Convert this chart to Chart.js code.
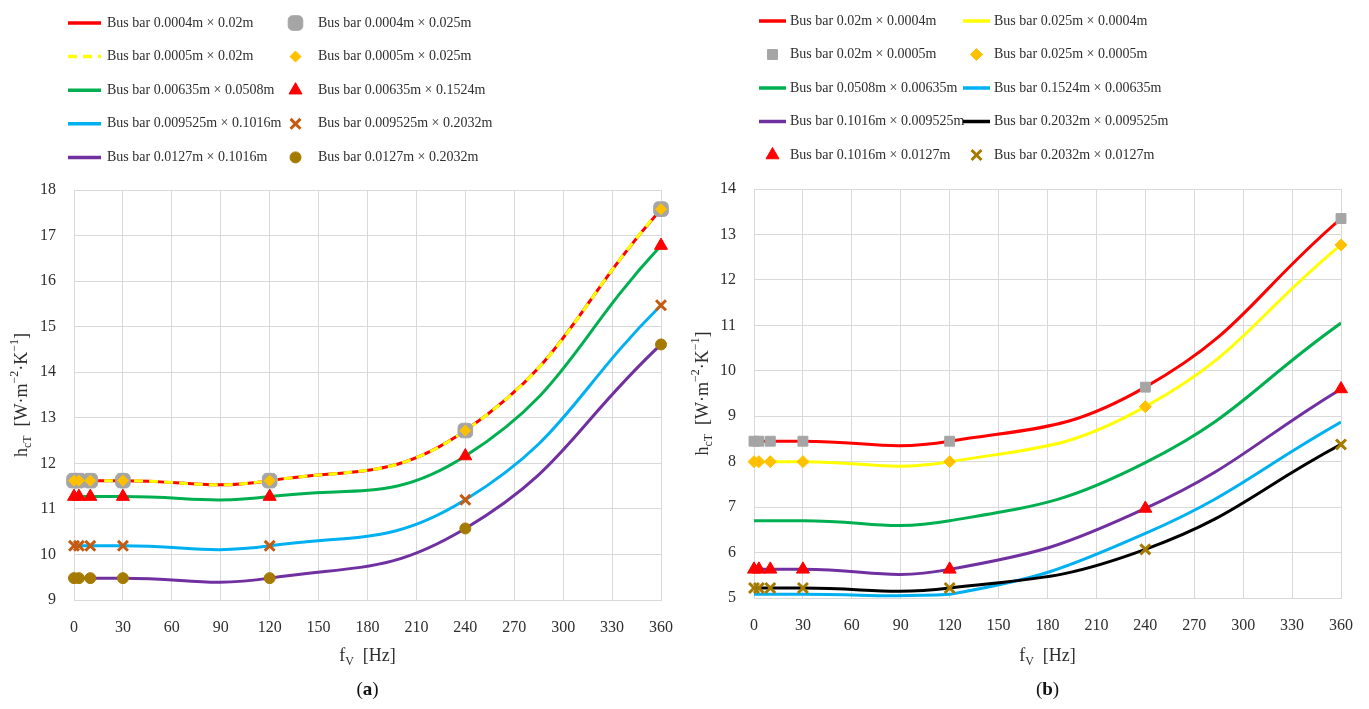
<!DOCTYPE html>
<html>
<head>
<meta charset="utf-8">
<script src="https://cdn.jsdelivr.net/npm/chart.js@4.4.1/dist/chart.umd.min.js"></script>
<style>
  html, body { margin: 0; padding: 0; background: #fff; }
  #wrap { position: relative; width: 1369px; height: 709px; }
  canvas { position: absolute; top: 0; }
  #chartA { left: 0; }
  #chartB { left: 684px; }
</style>
</head>
<body>
<div id="wrap">
  <canvas id="chartA" width="684" height="709"></canvas>
  <canvas id="chartB" width="685" height="709"></canvas>
</div>
<script>
// frequencies (Hz)
const freqA = [0, 3, 10, 30, 120, 240, 360];
const freqB = [0, 3, 10, 30, 120, 240, 360];
const xTicks = [0, 30, 60, 90, 120, 150, 180, 210, 240, 270, 300, 330, 360];

// (a) h_cT values
const a_0004x002 = [11.62, 11.62, 11.62, 11.62, 11.62, 12.72, 17.58];
const a_0004x0025 = [11.62, 11.62, 11.62, 11.62, 11.62, 12.72, 17.58];
const a_0005x002 = [11.62, 11.62, 11.62, 11.62, 11.62, 12.72, 17.58];
const a_0005x0025 = [11.62, 11.62, 11.62, 11.62, 11.62, 12.72, 17.58];
const a_00635x00508 = [11.27, 11.27, 11.27, 11.27, 11.27, 12.16, 16.78];
const a_00635x01524 = [11.27, 11.27, 11.27, 11.27, 11.27, 12.16, 16.78];
const a_009525x01016 = [10.19, 10.19, 10.19, 10.19, 10.19, 11.2, 15.47];
const a_009525x02032 = [10.19, 10.19, 10.19, 10.19, 10.19, 11.2, 15.47];
const a_0127x01016 = [9.48, 9.48, 9.48, 9.48, 9.48, 10.57, 14.61];
const a_0127x02032 = [9.48, 9.48, 9.48, 9.48, 9.48, 10.57, 14.61];

// (b) h_cT values
const b_002x00004 = [8.45, 8.45, 8.45, 8.45, 8.45, 9.64, 13.35];
const b_0025x00004 = [8.0, 8.0, 8.0, 8.0, 8.0, 9.21, 12.77];
const b_002x00005 = [8.45, 8.45, 8.45, 8.45, 8.45, 9.64, 13.35];
const b_0025x00005 = [8.0, 8.0, 8.0, 8.0, 8.0, 9.21, 12.77];
const b_00508x000635 = [6.7, 6.7, 6.7, 6.7, 6.7, 7.98, 11.05];
const b_01524x000635 = [5.08, 5.08, 5.08, 5.08, 5.08, 6.42, 8.87];
const b_01016x0009525 = [5.63, 5.63, 5.63, 5.63, 5.63, 6.97, 9.6];
const b_02032x0009525 = [5.22, 5.22, 5.22, 5.22, 5.22, 6.07, 8.38];
const b_01016x00127 = [5.63, 5.63, 5.63, 5.63, 5.63, 6.97, 9.6];
const b_02032x00127 = [5.22, 5.22, 5.22, 5.22, 5.22, 6.07, 8.38];

const FONT = "'Liberation Serif', 'Times New Roman', serif";
const TXT = '#2e2e2e';

function pts(xs, ys) {
  return xs.map((x, i) => ({ x: x, y: ys[i] }));
}

function lineSet(label, xs, ys, color, order, dash) {
  return {
    label: label, data: pts(xs, ys), showLine: true, borderColor: color,
    backgroundColor: color, borderWidth: 3, borderDash: dash || [],
    pointRadius: 0, tension: 0.45, order: order
  };
}

function markSet(label, xs, ys, color, style, radius, order, bw) {
  return {
    label: label, data: pts(xs, ys), showLine: false, pointStyle: style,
    pointRadius: radius, backgroundColor: color, borderColor: color,
    borderWidth: bw || 1, order: order, clip: false
  };
}

// text with sub/superscripts: [text, kind]
function drawRich(ctx, parts, x, y, size) {
  const fontFor = k => (k === 'b' ? 'bold ' : '') +
    ((k === 'sub' || k === 'sup') ? Math.round(size * 0.68) : size) + 'px ' + FONT;
  let total = 0;
  parts.forEach(p => { ctx.font = fontFor(p[1]); total += ctx.measureText(p[0]).width; });
  let cx = x - total / 2;
  parts.forEach(p => {
    ctx.font = fontFor(p[1]);
    const dy = p[1] === 'sub' ? size * 0.3 : p[1] === 'sup' ? -size * 0.38 : 0;
    ctx.fillText(p[0], cx, y + dy);
    cx += ctx.measureText(p[0]).width;
  });
}

const yTitle = [['h', ''], ['cT', 'sub'], ['  [W·m', ''], ['−2', 'sup'], ['·K', ''], ['−1', 'sup'], [']', '']];
const xTitle = [['f', ''], ['V', 'sub'], ['  [Hz]', '']];

const panelDecor = {
  id: 'panelDecor',
  afterDraw(chart, args, opts) {
    const ctx = chart.ctx;
    const area = chart.chartArea;
    ctx.save();
    ctx.textBaseline = 'middle';
    ctx.textAlign = 'left';

    // two-column legend
    chart.data.datasets.forEach((ds, i) => {
      const x0 = opts.legendCols[i % 2];
      const y = opts.legendTop + Math.floor(i / 2) * opts.legendRow;
      const w = opts.sampleWidth;
      ctx.save();
      if (ds.showLine) {
        ctx.strokeStyle = ds.borderColor;
        ctx.lineWidth = 3.5;
        ctx.setLineDash(ds.borderDash.length ? [9, 6] : []);
        ctx.beginPath();
        ctx.moveTo(x0, y);
        ctx.lineTo(x0 + w, y);
        ctx.stroke();
      } else {
        ctx.fillStyle = ds.backgroundColor;
        ctx.strokeStyle = ds.borderColor;
        ctx.lineWidth = ds.borderWidth;
        Chart.helpers.drawPoint(ctx, {
          pointStyle: ds.pointStyle, radius: ds.pointRadius,
          borderWidth: ds.borderWidth, rotation: 0
        }, x0 + w / 2, y);
      }
      ctx.restore();
      ctx.fillStyle = TXT;
      ctx.font = opts.legendFont + 'px ' + FONT;
      ctx.fillText(ds.label, x0 + w + opts.textGap, y);
    });

    // axis titles
    ctx.fillStyle = TXT;
    ctx.save();
    ctx.translate(opts.yTitleX, (area.top + area.bottom) / 2);
    ctx.rotate(-Math.PI / 2);
    drawRich(ctx, yTitle, 0, 0, 18);
    ctx.restore();
    drawRich(ctx, xTitle, (area.left + area.right) / 2, opts.xTitleY, 18);

    // panel tag
    ctx.fillStyle = '#111';
    drawRich(ctx, [['(', ''], [opts.tag, 'b'], [')', '']], (area.left + area.right) / 2, opts.tagY, 19);
    ctx.restore();
  }
};

function noPad(s) {
  s.paddingLeft = 0; s.paddingRight = 0; s.paddingTop = 0; s.paddingBottom = 0;
}

function makeChart(id, datasets, yMin, yMax, decor) {
  return new Chart(id, {
    type: 'scatter',
    data: { datasets: datasets },
    options: {
      responsive: false,
      animation: false,
      layout: { padding: decor.padding },
      scales: {
        x: {
          type: 'linear', min: 0, max: 360,
          afterBuildTicks: s => { s.ticks = xTicks.map(v => ({ value: v })); },
          ticks: { padding: 18, color: TXT, font: { family: FONT, size: 16 } },
          grid: { color: '#d9d9d9', drawTicks: false },
          border: { color: '#d9d9d9' },
          afterFit: s => { s.height = 44; noPad(s); }
        },
        y: {
          min: yMin, max: yMax,
          ticks: { stepSize: 1, padding: 18, color: TXT, font: { family: FONT, size: 16 } },
          grid: { color: '#d9d9d9', drawTicks: false },
          border: { color: '#d9d9d9' },
          afterFit: s => { s.width = 50; noPad(s); }
        }
      },
      plugins: {
        legend: { display: false },
        tooltip: { enabled: false },
        panelDecor: decor
      }
    },
    plugins: [panelDecor]
  });
}

const setsA = [
  lineSet('Bus bar 0.0004m × 0.02m', freqA, a_0004x002, '#ff0000', 9),
  markSet('Bus bar 0.0004m × 0.025m', freqA, a_0004x0025, '#a5a5a5', 'rectRounded', 8.5, 4),
  lineSet('Bus bar 0.0005m × 0.02m', freqA, a_0005x002, '#ffff00', 8, [9, 6]),
  markSet('Bus bar 0.0005m × 0.025m', freqA, a_0005x0025, '#ffc000', 'rectRot', 5.5, 1),
  lineSet('Bus bar 0.00635m × 0.0508m', freqA, a_00635x00508, '#00b050', 7),
  markSet('Bus bar 0.00635m × 0.1524m', freqA, a_00635x01524, '#ff0000', 'triangle', 7.5, 2),
  lineSet('Bus bar 0.009525m × 0.1016m', freqA, a_009525x01016, '#00b0f0', 7),
  markSet('Bus bar 0.009525m × 0.2032m', freqA, a_009525x02032, '#c55a11', 'crossRot', 7, 2, 3),
  lineSet('Bus bar 0.0127m × 0.1016m', freqA, a_0127x01016, '#7030a0', 7),
  markSet('Bus bar 0.0127m × 0.2032m', freqA, a_0127x02032, '#a47b00', 'circle', 5.5, 2)
];

const setsB = [
  lineSet('Bus bar 0.02m × 0.0004m', freqB, b_002x00004, '#ff0000', 8),
  lineSet('Bus bar 0.025m × 0.0004m', freqB, b_0025x00004, '#ffff00', 8),
  markSet('Bus bar 0.02m × 0.0005m', freqB, b_002x00005, '#a5a5a5', 'rect', 7, 2),
  markSet('Bus bar 0.025m × 0.0005m', freqB, b_0025x00005, '#ffc000', 'rectRot', 6, 2),
  lineSet('Bus bar 0.0508m × 0.00635m', freqB, b_00508x000635, '#00b050', 8),
  lineSet('Bus bar 0.1524m × 0.00635m', freqB, b_01524x000635, '#00b0f0', 8),
  lineSet('Bus bar 0.1016m × 0.009525m', freqB, b_01016x0009525, '#7030a0', 7),
  lineSet('Bus bar 0.2032m × 0.009525m', freqB, b_02032x0009525, '#000000', 7),
  markSet('Bus bar 0.1016m × 0.0127m', freqB, b_01016x00127, '#ff0000', 'triangle', 7.5, 2),
  markSet('Bus bar 0.2032m × 0.0127m', freqB, b_02032x00127, '#a47b00', 'crossRot', 7, 2, 3)
];

makeChart('chartA', setsA, 9, 18, {
  padding: { left: 24, right: 23, top: 190, bottom: 65 },
  legendCols: [68, 279], legendTop: 23, legendRow: 33.6, sampleWidth: 33,
  textGap: 6, legendFont: 14, yTitleX: 22, xTitleY: 656, tagY: 690, tag: 'a'
});

makeChart('chartB', setsB, 5, 14, {
  padding: { left: 20, right: 28, top: 189, bottom: 67 },
  legendCols: [75, 279], legendTop: 21, legendRow: 33.5, sampleWidth: 27,
  textGap: 4, legendFont: 14, yTitleX: 19, xTitleY: 656, tagY: 690, tag: 'b'
});
</script>
</body>
</html>
